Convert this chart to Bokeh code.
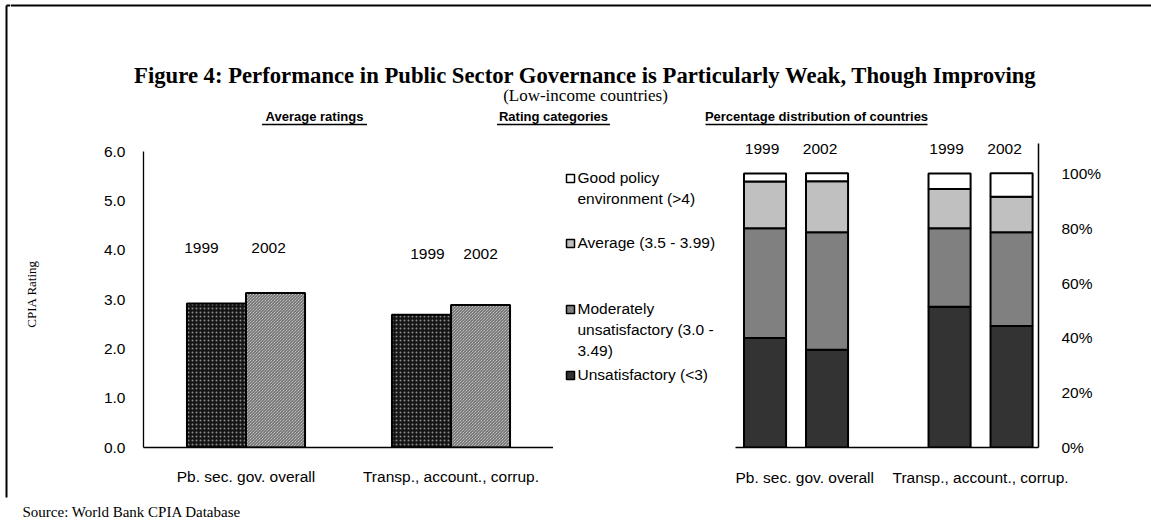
from bokeh.plotting import figure
from bokeh.layouts import column, row
from bokeh.models import (Range1d, FactorRange, ColumnDataSource, FixedTicker,
                          PrintfTickFormatter)
from bokeh.transform import dodge
from bokeh.embed import file_html
from bokeh.resources import INLINE
from bokeh.core.properties import value

# ---------------- data ----------------
categories = ["Pb. sec. gov. overall", "Transp., account., corrup."]
years = ["1999", "2002"]

# Average CPIA ratings
avg_rating_1999 = [2.92, 2.69]
avg_rating_2002 = [3.13, 2.89]
rating_ticks = [0, 1, 2, 3, 4, 5, 6]

# Percentage distribution of countries by rating category
rating_categories = ["Unsatisfactory (<3)",
                     "Moderately\nunsatisfactory (3.0 -\n3.49)",
                     "Average (3.5 - 3.99)",
                     "Good policy\nenvironment (>4)"]
stack_keys = ["unsat", "mod", "avg", "good"]
dist_1999 = {"unsat": [40.0, 51.4], "mod": [40.0, 28.6], "avg": [17.1, 14.3], "good": [2.9, 5.7]}
dist_2002 = {"unsat": [35.7, 44.3], "mod": [42.9, 34.3], "avg": [18.6, 12.9], "good": [2.9, 8.6]}
pct_ticks = [0, 20, 40, 60, 80, 100]
dist_colors = ["#333333", "#808080", "#c0c0c0", "#ffffff"]

TITLE = "Figure 4: Performance in Public Sector Governance is Particularly Weak, Though Improving"
SUBTITLE = "(Low-income countries)"
SOURCE = "Source: World Bank CPIA Database"

SANS = "Liberation Sans"
SERIF = "Liberation Serif"
FS = "15.5px"


def blank(width, height, xr, yr, **kw):
    opts = dict(min_border=0)
    opts.update(kw)
    p = figure(width=width, height=height, x_range=Range1d(*xr), y_range=Range1d(*yr),
               output_backend="svg", toolbar_location=None,
               x_axis_location=None, y_axis_location=None, **opts)
    p.grid.visible = False
    p.outline_line_color = None
    return p


# ---------------- frame border (left) ----------------
border = blank(10, 521, (0, 10), (521, 0))
border.segment(x0=[6, 6], y0=[5, 5], x1=[6, 10], y1=[497, 5], line_color="black", line_width=2)

# ---------------- top: titles and headers ----------------
top = blank(1141, 130, (10, 1151), (130, 0))
top.segment(x0=[10], y0=[5], x1=[1151], y1=[5], line_color="black", line_width=2)
top.text(x=[585], y=[75], text=[TITLE], text_font=value(SERIF), text_font_style="bold",
         text_font_size="22.7px", text_align="center", text_baseline="middle", text_color="black")
top.text(x=[585], y=[95], text=[SUBTITLE], text_font=value(SERIF),
         text_font_size="17px", text_align="center", text_baseline="middle", text_color="black")
headers = ["Average ratings", "Rating categories", "Percentage distribution of countries"]
hx = [314, 553, 816]
hw = [105, 113, 222]
top.text(x=hx, y=[116] * 3, text=headers, text_font=value(SANS), text_font_style="bold",
         text_font_size="13px", text_align="center", text_baseline="middle", text_color="black")
top.segment(x0=[c - w / 2 for c, w in zip(hx, hw)], y0=[124] * 3,
            x1=[c + w / 2 for c, w in zip(hx, hw)], y1=[124] * 3,
            line_color="black", line_width=1.5)

# ---------------- left chart: average ratings ----------------
left = figure(width=543, height=360, x_range=FactorRange(*categories, range_padding=0),
              y_range=Range1d(0, 6.223), output_backend="svg", toolbar_location=None,
              min_border_left=133, min_border_right=0, min_border_top=10, min_border_bottom=43)
left.grid.visible = False
left.outline_line_color = None
src_left = ColumnDataSource(dict(cat=categories, r1999=avg_rating_1999, r2002=avg_rating_2002,
                                 y1999=["1999"] * 2, y2002=["2002"] * 2,
                                 ly=[4.05, 3.93], off99=[-15, 6], off02=[-7, 0]))
left.vbar(x=dodge("cat", -0.144, range=left.x_range), top="r1999", width=0.288, source=src_left,
          fill_color="#151515", hatch_pattern="dot", hatch_color="#8a8a8a", hatch_scale=4,
          hatch_weight=1, line_color="black", line_width=2)
left.vbar(x=dodge("cat", 0.144, range=left.x_range), top="r2002", width=0.288, source=src_left,
          fill_color="#e6e6e6", hatch_pattern="left_diagonal_line", hatch_color="#555555",
          hatch_scale=3, hatch_weight=1, line_color="black", line_width=2)
# year labels
left.text(x=dodge("cat", -0.144, range=left.x_range), y="ly", text="y1999", source=src_left,
          x_offset="off99", text_font=value(SANS), text_font_size=FS, text_align="center",
          text_baseline="middle", text_color="black")
left.text(x=dodge("cat", 0.144, range=left.x_range), y="ly", text="y2002", source=src_left,
          x_offset="off02", text_font=value(SANS), text_font_size=FS, text_align="center",
          text_baseline="middle", text_color="black")

ya = left.yaxis[0]
ya.ticker = FixedTicker(ticks=rating_ticks)
ya.formatter = PrintfTickFormatter(format="%.1f")
ya.bounds = (0, 6)
ya.major_tick_line_color = None
ya.minor_tick_line_color = None
ya.major_label_standoff = 12
ya.major_label_text_font = SANS
ya.major_label_text_font_size = FS
ya.major_label_text_color = "black"
ya.axis_line_color = "black"
ya.axis_line_width = 1.3
ya.axis_label = "CPIA Rating"
ya.axis_label_text_font = SERIF
ya.axis_label_text_font_style = "normal"
ya.axis_label_text_font_size = "13px"
ya.axis_label_text_color = "black"
ya.axis_label_standoff = 62

xa = left.xaxis[0]
xa.major_tick_line_color = None
xa.minor_tick_line_color = None
xa.major_label_standoff = 14
xa.major_label_text_font = SANS
xa.major_label_text_font_size = FS
xa.major_label_text_color = "black"
xa.axis_line_color = "black"
xa.axis_line_width = 1.3

# ---------------- legend panel (frame aligned with the charts: y 140..447) ----------------
leg = blank(182, 360, (553, 735), (447, 140), min_border_top=10, min_border_bottom=43)
leg_sq_y = [375, 309, 243, 178]
leg.scatter(x=[570] * 4, y=leg_sq_y, marker="square", size=8, fill_color=dist_colors,
            line_color="black", line_width=1.5)
leg.text(x=[577] * 4, y=[y - 10 for y in leg_sq_y], text=rating_categories,
         text_font=value(SANS), text_font_size=FS, text_align="left", text_baseline="top",
         text_line_height=1.25, text_color="black")

# ---------------- right chart: distribution ----------------
right = figure(width=416, height=360, x_range=Range1d(-0.328, 1.314), y_range=Range1d(0, 112.04),
               y_axis_location="right", output_backend="svg", toolbar_location=None,
               min_border_left=0, min_border_right=113, min_border_top=10, min_border_bottom=43)
right.grid.visible = False
right.outline_line_color = None
src99 = ColumnDataSource(dict(xpos=[0, 1], lab=["1999"] * 2, **dist_1999))
src02 = ColumnDataSource(dict(xpos=[0, 1], lab=["2002"] * 2, **dist_2002))
right.vbar_stack(stack_keys, x=dodge("xpos", -0.168), width=0.228, color=dist_colors,
                 line_color="black", line_width=2, source=src99)
right.vbar_stack(stack_keys, x=dodge("xpos", 0.168), width=0.228, color=dist_colors,
                 line_color="black", line_width=2, source=src02)
right.text(x=dodge("xpos", -0.168), y=108.8, text="lab", source=src99, x_offset=-3,
           text_font=value(SANS), text_font_size=FS, text_align="center",
           text_baseline="middle", text_color="black")
right.text(x=dodge("xpos", 0.168), y=108.8, text="lab", source=src02, x_offset=-7,
           text_font=value(SANS), text_font_size=FS, text_align="center",
           text_baseline="middle", text_color="black")

ry = right.yaxis[0]
ry.ticker = FixedTicker(ticks=pct_ticks)
ry.formatter = PrintfTickFormatter(format="%d%%")
ry.bounds = (0, 110.95)
ry.major_tick_line_color = None
ry.minor_tick_line_color = None
ry.major_label_standoff = 17
ry.major_label_text_font = SANS
ry.major_label_text_font_size = FS
ry.major_label_text_color = "black"
ry.axis_line_color = "black"
ry.axis_line_width = 1.5

rx = right.xaxis[0]
rx.ticker = FixedTicker(ticks=[0, 1])
rx.major_label_overrides = {0: categories[0], 1: categories[1]}
rx.major_tick_line_color = None
rx.minor_tick_line_color = None
rx.major_label_standoff = 15
rx.major_label_text_font = SANS
rx.major_label_text_font_size = FS
rx.major_label_text_color = "black"
rx.axis_line_color = "black"
rx.axis_line_width = 1.3

# ---------------- bottom: source ----------------
bottom = blank(1141, 31, (10, 1151), (521, 490))
bottom.text(x=[22], y=[511], text=[SOURCE], text_font=value(SERIF), text_font_size="15px",
            text_align="left", text_baseline="middle", text_color="black")

main = column(top, row(left, leg, right, spacing=0), bottom, spacing=0)
layout = row(border, main, spacing=0)
open("out.html", "w").write(file_html(layout, INLINE))
